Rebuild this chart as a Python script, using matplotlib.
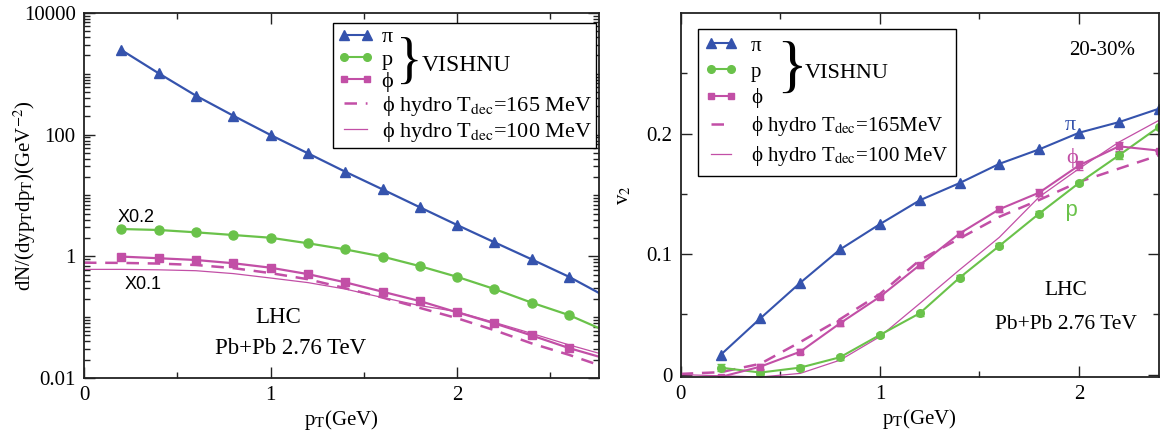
import matplotlib
matplotlib.use("Agg")
import matplotlib.pyplot as plt
from matplotlib.ticker import FixedLocator, FuncFormatter
from matplotlib.lines import Line2D
import numpy as np

plt.rcParams['font.family'] = ['Liberation Serif', 'DejaVu Serif']
plt.rcParams['mathtext.fontset'] = 'stix'

BLUE = "#3553ad"
GREEN = "#6ac24a"
MAG = "#c24fa6"

# ---- spectra (left) ----
pt = [0.2, 0.4, 0.6, 0.8, 1.0, 1.2, 1.4, 1.6, 1.8, 2.0, 2.2, 2.4, 2.6]
pi_line_x = pt + [2.76]
pi_spec = [2466, 1020, 437, 205, 98.7, 49.4, 24.6, 12.6, 6.4, 3.27, 1.70, 0.89, 0.46, 0.25]
p_spec = [2.81, 2.71, 2.48, 2.24, 2.02, 1.64, 1.30, 0.99, 0.69, 0.46, 0.29, 0.173, 0.108, 0.066]
phi_spec = [0.99, 0.93, 0.87, 0.77, 0.65, 0.51, 0.374, 0.262, 0.184, 0.120, 0.079, 0.050, 0.031, 0.0224]

hyd_x = [0.0, 0.2, 0.4, 0.6, 0.8, 1.0, 1.2, 1.4, 1.6, 1.8, 2.0, 2.2, 2.4, 2.6, 2.76]
phi165_spec = [0.785, 0.78, 0.76, 0.72, 0.64, 0.53, 0.42, 0.30, 0.21, 0.142, 0.096, 0.061, 0.037, 0.024, 0.0163]
phi100_spec = [0.61, 0.61, 0.60, 0.58, 0.52, 0.44, 0.37, 0.29, 0.21, 0.155, 0.123, 0.082, 0.054, 0.035, 0.0255]

# ---- v2 (right) ----
v2_x = [0.2, 0.4, 0.6, 0.8, 1.0, 1.2, 1.4, 1.6, 1.8, 2.0, 2.2, 2.4]
pi_v2 = [0.0163, 0.0467, 0.0762, 0.1039, 0.1249, 0.1447, 0.159, 0.175, 0.187, 0.2008, 0.2096, 0.2207]
p_v2 = [0.0058, 0.0017, 0.0058, 0.0144, 0.0329, 0.0509, 0.0804, 0.1069, 0.1337, 0.1591, 0.182, 0.2055]
p_v2_err = [0.003, 0.002, 0.002, 0.002, 0.002, 0.002, 0.002, 0.002, 0.002, 0.002, 0.003, 0.0]
phi_v2 = [-0.002, 0.0066, 0.019, 0.0426, 0.0646, 0.0909, 0.1171, 0.1373, 0.1511, 0.1737, 0.1895, 0.186]
phi_v2_err = [0.002, 0.002, 0.002, 0.002, 0.002, 0.002, 0.002, 0.002, 0.003, 0.004, 0.004, 0.0]
hv2_x = [0.0, 0.2, 0.4, 0.6, 0.8, 1.0, 1.2, 1.4, 1.6, 1.8, 2.0, 2.2, 2.4]
phi165_v2 = [0.0006, 0.002, 0.009, 0.027, 0.046, 0.0669, 0.095, 0.113, 0.131, 0.145, 0.160, 0.171, 0.182]
phi100_v2 = [0.0, -0.001, -0.002, 0.001, 0.012, 0.0315, 0.059, 0.087, 0.114, 0.1475, 0.171, 0.193, 0.211]

fig = plt.figure(figsize=(11.63, 4.32), dpi=100)
ax1 = fig.add_axes([0.0722, 0.125, 0.4428, 0.845])
ax2 = fig.add_axes([0.5853, 0.1273, 0.411, 0.842])

FS = 15

def style(ax):
    for s in ax.spines.values():
        s.set_linewidth(1.3)
        s.set_color("#222222")
    ax.tick_params(which="both", direction="in", top=True, right=True,
                   labelsize=FS, width=1.0, color="#222222")
    ax.tick_params(which="major", length=8, pad=6)
    ax.tick_params(which="minor", length=4)

# left panel
ax1.plot(pi_line_x, pi_spec, color=BLUE, lw=1.6)
ax1.plot(pt, pi_spec[:len(pt)], ls="none", marker="^", ms=7, color=BLUE)
ax1.plot(pi_line_x, p_spec, color=GREEN, lw=1.6)
ax1.plot(pt, p_spec[:len(pt)], ls="none", marker="o", ms=6.5, color=GREEN)
ax1.plot(pi_line_x, phi_spec, color=MAG, lw=1.6)
ax1.plot(pt, phi_spec[:len(pt)], ls="none", marker="s", ms=5.5, color=MAG)
ax1.plot(hyd_x, phi165_spec, color=MAG, lw=1.8, ls=(0, (5, 3.5)))
ax1.plot(hyd_x, phi100_spec, color=MAG, lw=0.9)

ax1.set_yscale("log")
ax1.set_xlim(0, 2.76)
ax1.set_ylim(0.01, 10000)
style(ax1)
ax1.yaxis.set_major_locator(FixedLocator([0.01, 1, 100, 10000]))
minors = [k * 10.0 ** d for d in range(-2, 4) for k in range(1, 10)]
minors = [m for m in minors if m not in (0.01, 1, 100, 10000)]
ax1.yaxis.set_minor_locator(FixedLocator(minors))
ax1.yaxis.set_major_formatter(FuncFormatter(lambda v, p: "%g" % v))
ax1.yaxis.set_minor_formatter(FuncFormatter(lambda v, p: ""))
ax1.xaxis.set_major_locator(FixedLocator([0, 1, 2]))
ax1.xaxis.set_minor_locator(FixedLocator([0.5, 1.5, 2.5]))
ax1.xaxis.set_major_formatter(FuncFormatter(lambda v, p: "%g" % v))
ax1.set_xlabel(r"p$_{\rm T}$(GeV)", fontsize=FS, labelpad=2)
ax1.set_ylabel(r"dN/(dyp$_{\rm T}$dp$_{\rm T}$)(GeV$^{-2}$)", fontsize=FS)
ax1.yaxis.set_label_coords(-0.09, 0.5)

ax1.text(0.18, 4.4, "X0.2", family="Liberation Sans", fontsize=13, va="center")
ax1.text(0.22, 0.34, "X0.1", family="Liberation Sans", fontsize=13, va="center")
ax1.text(1.043, 0.1, "LHC", fontsize=16.5, ha="center", va="center")
ax1.text(1.107, 0.031, "Pb+Pb 2.76 TeV", fontsize=16.5, ha="center", va="center")

# right panel
ax2.plot(v2_x, pi_v2, color=BLUE, lw=1.5, marker="^", ms=6.5)
ax2.errorbar(v2_x, p_v2, yerr=p_v2_err, color=GREEN, lw=1.5, marker="o", ms=5.5,
             capsize=3, elinewidth=1)
ax2.errorbar(v2_x, phi_v2, yerr=phi_v2_err, color=MAG, lw=1.5, marker="s", ms=5,
             capsize=3, elinewidth=1)
ax2.plot(hv2_x, phi165_v2, color=MAG, lw=1.8, ls=(0, (5, 3.5)))
ax2.plot(hv2_x, phi100_v2, color=MAG, lw=0.9)

ax2.set_xlim(0, 2.4)
ax2.set_ylim(-0.002, 0.3)
style(ax2)
ax2.yaxis.set_major_locator(FixedLocator([0, 0.1, 0.2]))
ax2.yaxis.set_minor_locator(FixedLocator([0.05, 0.15, 0.25]))
ax2.yaxis.set_major_formatter(FuncFormatter(lambda v, p: "%g" % v))
ax2.xaxis.set_major_locator(FixedLocator([0, 1, 2]))
ax2.xaxis.set_minor_locator(FixedLocator([0.5, 1.5]))
ax2.xaxis.set_major_formatter(FuncFormatter(lambda v, p: "%g" % v))
ax2.set_xlabel(r"p$_{\rm T}$(GeV)", fontsize=FS, labelpad=2)
ax2.set_ylabel(r"v$_2$", fontsize=FS)
ax2.yaxis.set_label_coords(-0.1, 0.5)

ax2.text(2.117, 0.269, "20-30%", fontsize=15, ha="center", va="center")
ax2.text(1.956, 0.207, "π", color=BLUE, fontsize=FS + 1, ha="center", va="center")
ax2.text(1.967, 0.1795, "ϕ", color=MAG, fontsize=FS + 1, ha="center", va="center")
ax2.text(1.957, 0.136, "p", color=GREEN, family="Liberation Mono", fontsize=FS + 1,
         ha="center", va="center")
ax2.text(1.932, 0.070, "LHC", fontsize=15.5, ha="center", va="center")
ax2.text(1.935, 0.0412, "Pb+Pb 2.76 TeV", fontsize=15.5, ha="center", va="center")

# legends
def handles():
    return [Line2D([], [], color=BLUE, lw=1.5, marker="^", ms=6.5),
            Line2D([], [], color=GREEN, lw=1.5, marker="o", ms=5.5),
            Line2D([], [], color=MAG, lw=1.5, marker="s", ms=5),
            Line2D([], [], color=MAG, lw=1.8, ls=(0, (5, 3.5))),
            Line2D([], [], color=MAG, lw=0.9)]

lab1 = ["π", "p", "ϕ", r"ϕ hydro T$_{\rm dec}$=165 MeV", r"ϕ hydro T$_{\rm dec}$=100 MeV"]
lab2 = ["π", "p", "ϕ", r"ϕ hydro T$_{\rm dec}$=165MeV", r"ϕ hydro T$_{\rm dec}$=100 MeV"]

leg1 = ax1.legend(handles(), lab1, loc="upper right", bbox_to_anchor=(0.994, 0.973),
                  borderaxespad=0, fontsize=16, numpoints=2, handlelength=1.65,
                  handletextpad=0.35, labelspacing=0.08, borderpad=0.18,
                  fancybox=False, framealpha=1, edgecolor="black")
leg1.get_frame().set_linewidth(1.0)
ax1.text(0.605, 0.862, "}", transform=ax1.transAxes, fontsize=40, va="center",
         ha="left", zorder=10)
ax1.text(0.655, 0.855, "VISHNU", transform=ax1.transAxes, fontsize=17, va="center",
         zorder=10)

leg2 = ax2.legend(handles(), lab2, loc="upper left", bbox_to_anchor=(0.036, 0.957),
                  borderaxespad=0, fontsize=15, numpoints=2, handlelength=1.55,
                  handletextpad=0.65, labelspacing=0.3, borderpad=0.35,
                  fancybox=False, framealpha=1, edgecolor="black")
leg2.get_frame().set_linewidth(1.0)
ax2.text(0.2, 0.843, "}", transform=ax2.transAxes, fontsize=46, va="center",
         ha="left", zorder=10)
ax2.text(0.26, 0.835, "VISHNU", transform=ax2.transAxes, fontsize=16, va="center",
         zorder=10)

fig.savefig("out.png", dpi=100)
